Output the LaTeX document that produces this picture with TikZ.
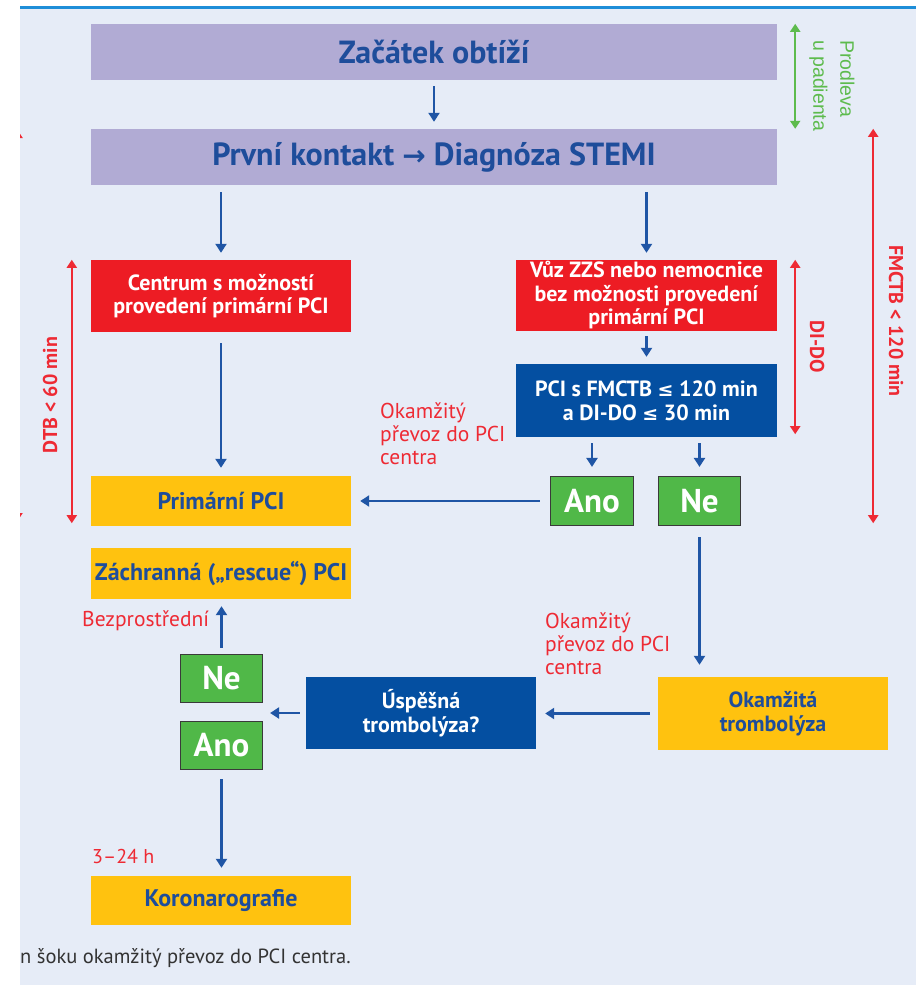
\documentclass[tikz,border=0pt]{standalone}
\usepackage{fontspec}
\setmainfont{PT Sans}
\newfontfamily\symf{DejaVu Sans}
\newfontfamily\armf{Liberation Sans}
\usetikzlibrary{arrows.meta,calc}
\definecolor{bg}{HTML}{E6ECF7}
\definecolor{topline}{HTML}{1E8ED8}
\definecolor{lav}{HTML}{B1ABD4}
\definecolor{dblue}{HTML}{1E4D9B}
\definecolor{boxred}{HTML}{ED1C24}
\definecolor{boxblue}{HTML}{044FA1}
\definecolor{yel}{HTML}{FFC20F}
\definecolor{grn}{HTML}{50B848}
\definecolor{grnborder}{HTML}{3A3A3A}
\definecolor{ablue}{HTML}{1F55A5}
\definecolor{lred}{HTML}{EE2A34}
\definecolor{lgreen}{HTML}{5DBB4D}
\definecolor{foot}{HTML}{333333}
\tikzset{
  box/.style={inner sep=0pt, align=center},
  lavbox/.style={box, fill=lav, text=dblue, font=\bfseries\fontsize{32}{34}\selectfont},
  redbox/.style={box, fill=boxred, text=white, font=\bfseries\fontsize{22}{23.5}\selectfont},
  bluebox/.style={box, fill=boxblue, text=white, font=\bfseries\fontsize{22}{24}\selectfont},
  yelbox/.style={box, fill=yel, text=dblue, font=\bfseries\fontsize{24}{24.5}\selectfont},
  ynbox/.style={box, fill=grn, draw=grnborder, line width=1.2pt, text=white, font=\bfseries\fontsize{33}{34}\selectfont},
  flow/.style={draw=ablue, line width=2.2pt, -{Triangle[width=11pt,length=9pt]}},
  span/.style={line width=2.2pt, {Triangle[width=10pt,length=8pt]}-{Triangle[width=10pt,length=8pt]}},
  lab/.style={text=lred, font=\fontsize{21.5}{23}\selectfont, align=left, inner sep=0pt},
  vlab/.style={text=lred, font=\bfseries\fontsize{20}{22}\selectfont, inner sep=0pt},
}
\begin{document}
\begin{tikzpicture}[x=1pt,y=-1pt]
\useasboundingbox (0,0) rectangle (916,985);
\fill[white] (0,0) rectangle (916,985);
\fill[bg] (20,9) rectangle (916,985);
\fill[topline] (20,5.5) rectangle (916,9);

% boxes
\node[lavbox, minimum width=686pt, minimum height=56pt] (start) at (434,52) {Začátek obtíží};
\node[lavbox, minimum width=686pt, minimum height=56pt] (contact) at (434,157) {První kontakt {\symf\bfseries\fontsize{28}{30}\selectfont →} Diagnóza STEMI};
\node[redbox, minimum width=260pt, minimum height=72pt] (centrum) at (221,296) {Centrum s možností\\provedení primární PCI};
\node[redbox, minimum width=261pt, minimum height=71pt] (vuz) at (646.5,295.5) {Vůz ZZS nebo nemocnice\\bez možnosti provedení\\primární PCI};
\node[bluebox, minimum width=261pt, minimum height=73pt] (pcis) at (646.5,400.5) {PCI s FMCTB {\symf\fontsize{19}{20}\selectfont ≤} 120 min\\a DI-DO {\symf\fontsize{19}{20}\selectfont ≤} 30 min};
\node[yelbox, minimum width=260pt, minimum height=50pt] (primarni) at (221,501) {Primární PCI};
\node[ynbox, minimum width=83pt, minimum height=49pt] (ano1) at (592,501) {Ano};
\node[ynbox, minimum width=82pt, minimum height=49pt] (ne1) at (699.5,501) {Ne};
\node[yelbox, minimum width=260pt, minimum height=51pt] (rescue) at (221,573.5) {Záchranná („rescue“) PCI};
\node[ynbox, minimum width=82pt, minimum height=48pt] (ne2) at (221.5,678.5) {Ne};
\node[ynbox, minimum width=82pt, minimum height=48pt] (ano2) at (221.5,745.5) {Ano};
\node[bluebox, minimum width=230pt, minimum height=72pt] (uspesna) at (421,713) {Úspěšná\\trombolýza?};
\node[yelbox, minimum width=230pt, minimum height=73pt, font=\bfseries\fontsize{22}{24}\selectfont] (okamzita) at (773,713.5) {Okamžitá\\trombolýza};
\node[yelbox, minimum width=260pt, minimum height=49pt] (koro) at (221,900.5) {Koronarografie};

% flow arrows
\draw[flow, shorten <=6pt, shorten >=7pt] (start.south) -- (contact.north);
\draw[flow, shorten <=7pt, shorten >=7pt] (contact.south -| centrum.north) -- (centrum.north);
\draw[flow, shorten <=7pt, shorten >=7pt] (contact.south -| vuz.north) -- (vuz.north);
\draw[flow, shorten <=5pt, shorten >=7pt] (vuz.south) -- (pcis.north);
\draw[flow, shorten <=11pt, shorten >=8pt] (centrum.south) -- (primarni.north);
\draw[flow, shorten <=6pt, shorten >=9pt] (pcis.south -| ano1.north) -- (ano1.north);
\draw[flow, shorten <=6pt, shorten >=9pt] (pcis.south -| ne1.north) -- (ne1.north);
\draw[flow, shorten <=10pt, shorten >=9pt] (ano1.west) -- (primarni.east);
\draw[flow, shorten <=11pt, shorten >=12pt] (ne1.south) -- (ne1.south |- okamzita.north);
\draw[flow, shorten <=8pt, shorten >=9pt] (okamzita.west) -- (okamzita.west -| uspesna.east);
\coordinate (yn) at ($(ne2.south east)!0.5!(ano2.north east)$);
\draw[flow, shorten <=6pt, shorten >=7pt] (uspesna.west) -- (uspesna.west -| yn);
\draw[flow, shorten <=6pt, shorten >=7pt] (ne2.north) -- (ne2.north |- rescue.south);
\draw[flow, shorten <=9pt, shorten >=8pt] (ano2.south) -- (ano2.south |- koro.north);

% span arrows
\draw[span, lgreen] ([xshift=18pt]start.north east) -- ([xshift=18pt]start.north east |- contact.north);
\draw[span, lred] ([xshift=96pt]contact.north east) -- ([xshift=96pt,yshift=3pt]contact.north east |- primarni.south);
\draw[span, lred] ([xshift=18pt]vuz.north east) -- ([xshift=18pt,yshift=3pt]pcis.south east);
\draw[span, lred] ([xshift=-19pt]centrum.north west) -- ([xshift=-19pt,yshift=3pt]primarni.south west);
\begin{scope}
\clip (20,0) rectangle (40,985);
\draw[span, lred] (17.5,130) -- (17.5,521);
\end{scope}

% labels
\node[rotate=-90, anchor=west, text=lgreen, font=\armf\fontsize{19.5}{27}\selectfont, align=left, inner sep=0pt] (prod) at (832,40) {Prodleva\\u padienta};
\node[vlab, rotate=-90] (fmctb) at (896,321) {FMCTB < 120 min};
\node[vlab, rotate=-90] (dido) at (817,347) {DI-DO};
\node[vlab, rotate=90] (dtb) at (50,395) {DTB < 60 min};
\node[lab, anchor=north west] (prevoz1) at (380,403) {Okamžitý\\převoz do PCI\\centra};
\node[lab, anchor=north west] (prevoz2) at (545,613) {Okamžitý\\převoz do PCI\\centra};
\node[lab, anchor=base west] (bezpr) at (82,626) {Bezprostřední};
\node[lab, anchor=base west, font=\fontsize{20}{22}\selectfont] (hod) at (92,863) {3–24 h};
\node[anchor=base west, inner sep=0pt, text=foot, font=\fontsize{20.5}{22}\selectfont] (footnote) at (20,963) {n šoku okamžitý převoz do PCI centra.};
\end{tikzpicture}
\end{document}
